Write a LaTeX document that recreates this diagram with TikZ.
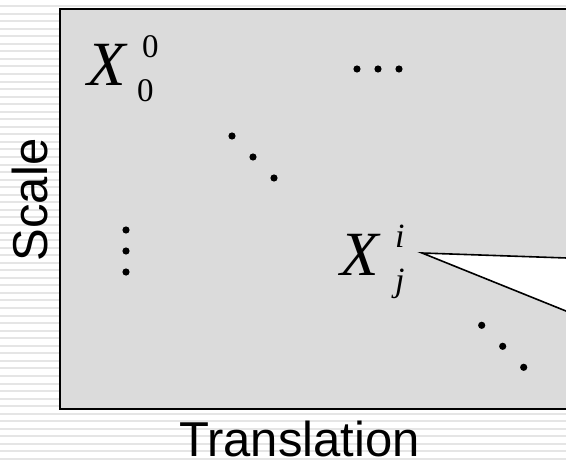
\documentclass[tikz,border=0pt]{standalone}
\usepackage{fontspec}
\setmainfont{Liberation Serif}
\setsansfont{Liberation Sans}
\begin{document}
\begin{tikzpicture}[x=1pt,y=-1pt,
  stripe/.style={draw=black!10,line width=2pt},
  panel/.style={fill=black!14,draw=black,line width=2pt},
  bigx/.style={inner sep=0pt,anchor=base west,font=\fontsize{63}{63}\selectfont\itshape},
  scr/.style={inner sep=0pt,anchor=base west,font=\fontsize{33}{33}\selectfont},
  scri/.style={inner sep=0pt,anchor=base west,font=\fontsize{34}{34}\selectfont\itshape},
  axislabel/.style={inner sep=0pt,anchor=base,font=\fontsize{49}{49}\selectfont\sffamily},
  dotmark/.style={fill=black,draw=none},
  callout/.style={fill=white,draw=black,line width=1.6pt,line join=miter}]
\useasboundingbox (0,0) rectangle (566,461);
\clip (0,0) rectangle (566,461);
\fill[white] (0,0) rectangle (566,461);
\foreach \i in {0,...,60} \draw[stripe] (0,{6+\i*7.55}) -- (566,{6+\i*7.55});
\draw[panel] (60,9) rectangle (590,409);
% labels
\node[axislabel,rotate=90] (scale) at (48,200) {Scale};
\node[axislabel] (transl) at (299.5,456.5) {Translation};
% X_0^0
\node[bigx] (x00) at (87,85) {X};
\node[scr] (x00sup) at (142,57) {0};
\node[scr] (x00sub) at (137,101) {0};
% X_j^i
\node[bigx] (xji) at (340,275) {X};
\node[scri] (xjisup) at (395,247) {i};
\node[scri] (xjisub) at (395,291) {j};
% dots
\foreach \p in {357,378,399} \fill[dotmark] (\p,69) circle (3.6);
\foreach \p/\q in {232/136,253/157,274/178} \fill[dotmark] (\p,\q) circle (3.6);
\foreach \q in {230,251,272} \fill[dotmark] (126,\q) circle (3.6);
\foreach \p/\q in {481.7/325.3,502.7/346.3,523.7/367.3} \fill[dotmark] (\p,\q) circle (3.6);
% callout
\coordinate (tip) at (422,253);
\coordinate (cu) at (590,258.8);
\coordinate (cl) at (590,320.7);
\draw[callout] (tip) -- (cu) -- (cl) -- cycle;
\end{tikzpicture}
\end{document}
